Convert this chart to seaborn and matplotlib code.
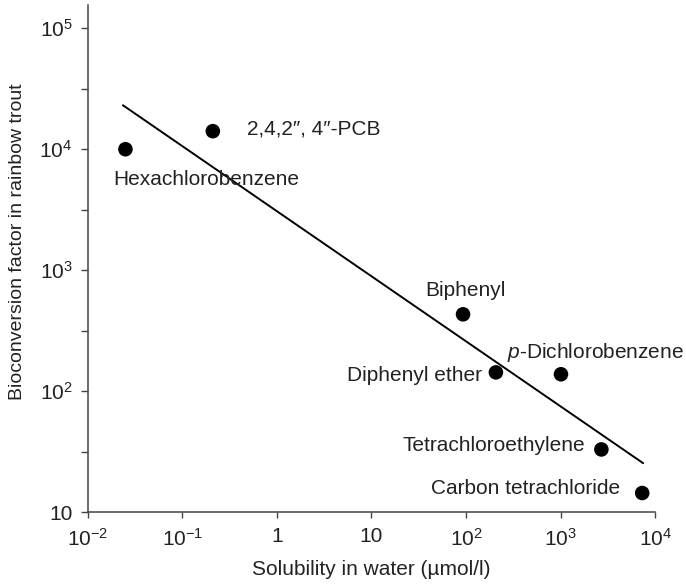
import seaborn as sns
import numpy as np
import pandas as pd
from matplotlib import pyplot as plt
from matplotlib import ticker

# values
compounds = ['Hexachlorobenzene', '2,4,2\u2033, 4\u2033-PCB', 'Biphenyl',
             'Diphenyl ether', r'$\mathit{p}$-Dichlorobenzene',
             'Tetrachloroethylene', 'Carbon tetrachloride']
solubility = [0.025, 0.21, 93, 207, 1010, 2700, 7300]
bcf = [10000, 14100, 432, 143, 138, 33, 14.4]

# fitted line end points
fit_x = [0.0235, 7470]
fit_y = [23100, 25.4]

xticks = [1e-2, 1e-1, 1, 10, 1e2, 1e3, 1e4]
xticklabels = [r'$10^{-2}$', r'$10^{-1}$', '1', '10', r'$10^2$', r'$10^3$', r'$10^4$']
yticks = [10, 1e2, 1e3, 1e4, 1e5]
yticklabels = ['10', r'$10^2$', r'$10^3$', r'$10^4$', r'$10^5$']

sns.set_style('ticks')
plt.rcParams['font.family'] = ['Liberation Sans', 'DejaVu Sans']
plt.rcParams['mathtext.fontset'] = 'custom'
plt.rcParams['mathtext.rm'] = 'Liberation Sans'
plt.rcParams['mathtext.it'] = 'Liberation Sans:italic'
fs = 15

df = pd.DataFrame({'sol': solubility, 'bcf': bcf, 'name': compounds})
fit = pd.DataFrame({'x': fit_x, 'y': fit_y})

fig = plt.figure(figsize=(6.86, 5.84), dpi=100)
ax = fig.add_axes([0.128, 0.123, 0.827, 0.868])

sns.lineplot(data=fit, x='x', y='y', color='black', lw=1.4, ax=ax)
sns.scatterplot(data=df, x='sol', y='bcf', color='black', s=110,
                edgecolor='none', ax=ax, zorder=3)

ax.set_xscale('log')
ax.set_yscale('log')
ax.set_xlim(1e-2, 1e4)
ax.set_ylim(10, 10**5.19)
ax.set_xticks(xticks)
ax.set_xticklabels(xticklabels)
ax.set_yticks(yticks)
ax.set_yticklabels(yticklabels)
ax.xaxis.set_minor_locator(ticker.NullLocator())
ax.yaxis.set_minor_locator(ticker.LogLocator(base=10, subs=(10**0.5,)))
ax.yaxis.set_minor_formatter(ticker.NullFormatter())
ax.tick_params(which='both', length=5, width=1, color='#444444',
               labelsize=fs, direction='out', labelcolor='#222222')
ax.tick_params(axis='x', which='both', length=4, pad=7)
ax.tick_params(axis='y', which='both', pad=6)

sns.despine(ax=ax)
for s in ['left', 'bottom']:
    ax.spines[s].set_color('#444444')
    ax.spines[s].set_linewidth(1.1)

ax.set_xlabel('Solubility in water (\u00b5mol/l)', fontsize=fs, va='center',
              color='#222222')
ax.set_ylabel('Bioconversion factor in rainbow trout', fontsize=14,
              va='center', color='#222222')
ax.xaxis.set_label_coords(0.5, -0.114)
ax.yaxis.set_label_coords(-0.1235, 0.534)

# label placement (pixel offsets from each point)
offsets = [(-12, -30, 'left'), (34, 2, 'left'), (2, 24, 'center'),
           (-14, -3, 'right'), (-54, 22, 'left'), (-16, 4, 'right'),
           (-22, 5, 'right')]
for (_, r), (dx, dy, ha) in zip(df.iterrows(), offsets):
    ax.annotate(r['name'], (r['sol'], r['bcf']), xytext=(dx, dy),
                textcoords='offset pixels', ha=ha, va='center',
                fontsize=fs, color='#222222')

plt.savefig('out.png', dpi=100)
